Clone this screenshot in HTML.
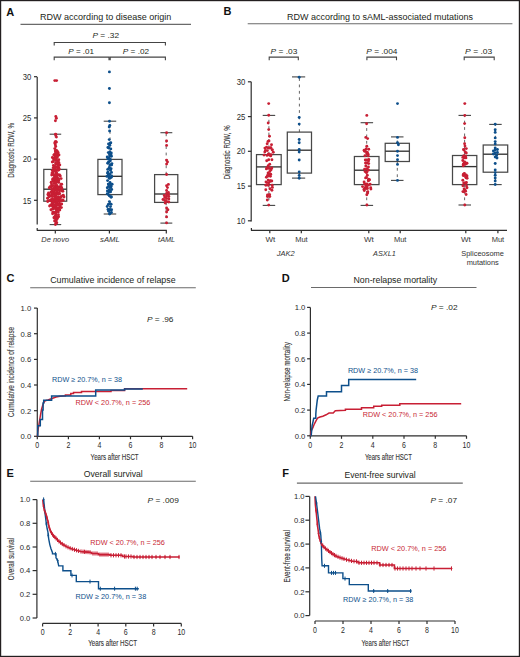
<!DOCTYPE html>
<html><head><meta charset="utf-8"><style>
html,body{margin:0;padding:0;background:#fff;}
svg{display:block;}
text{font-family:"Liberation Sans",sans-serif;}
.tk{}
.yl{stroke:#333;stroke-width:0.12px;}
</style></head><body>
<svg width="520" height="657" viewBox="0 0 520 657">
<rect width="520" height="657" fill="#fff"/>
<rect x="0.6" y="0.6" width="518.8" height="655.8" fill="none" stroke="#231f20" stroke-width="1.2"/>
<text x="6.3" y="15.6" font-size="11" font-weight="bold" fill="#111">A</text>
<text x="223.5" y="15.4" font-size="11" font-weight="bold" fill="#111">B</text>
<text x="6.5" y="281.9" font-size="11" font-weight="bold" fill="#111">C</text>
<text x="281.7" y="281.9" font-size="11" font-weight="bold" fill="#111">D</text>
<text x="6.5" y="476.9" font-size="11" font-weight="bold" fill="#111">E</text>
<text x="282.3" y="476.9" font-size="11" font-weight="bold" fill="#111">F</text>
<text x="40.0" y="20.0" font-size="9.6" textLength="131.4" lengthAdjust="spacingAndGlyphs" fill="#231f20">RDW according to disease origin</text>
<line x1="20.5" y1="24.4" x2="191.0" y2="24.4" stroke="#6a6a6a" stroke-width="1.1"/>
<text x="287.0" y="19.8" font-size="9.6" textLength="185.9" lengthAdjust="spacingAndGlyphs" fill="#231f20">RDW according to sAML-associated mutations</text>
<line x1="247.7" y1="23.7" x2="512.4" y2="23.7" stroke="#6a6a6a" stroke-width="1.1"/>
<text x="50.2" y="283.3" font-size="9.6" textLength="125.4" lengthAdjust="spacingAndGlyphs" fill="#231f20">Cumulative incidence of relapse</text>
<line x1="30.2" y1="287.7" x2="195.8" y2="287.7" stroke="#6a6a6a" stroke-width="1.1"/>
<text x="353.5" y="283.4" font-size="9.6" textLength="83.6" lengthAdjust="spacingAndGlyphs" fill="#231f20">Non-relapse mortality</text>
<line x1="311.0" y1="287.5" x2="476.5" y2="287.5" stroke="#6a6a6a" stroke-width="1.1"/>
<text x="83.7" y="477.0" font-size="9.6" textLength="59.0" lengthAdjust="spacingAndGlyphs" fill="#231f20">Overall survival</text>
<line x1="30.2" y1="481.3" x2="195.8" y2="481.3" stroke="#6a6a6a" stroke-width="1.1"/>
<text x="344.4" y="478.1" font-size="9.6" textLength="71.2" lengthAdjust="spacingAndGlyphs" fill="#231f20">Event-free survival</text>
<line x1="296.9" y1="483.1" x2="462.8" y2="483.1" stroke="#6a6a6a" stroke-width="1.1"/>
<line x1="37.2" y1="76.9" x2="37.2" y2="224.6" stroke="#2e2e2e" stroke-width="1.2"/>
<line x1="34.0" y1="200.3" x2="37.2" y2="200.3" stroke="#2e2e2e" stroke-width="1.2"/>
<text x="31.4" y="203.5" font-size="8.5" textLength="8.6" lengthAdjust="spacingAndGlyphs" text-anchor="end" fill="#2a2a2a" class="tk">15</text>
<line x1="34.0" y1="159.1" x2="37.2" y2="159.1" stroke="#2e2e2e" stroke-width="1.2"/>
<text x="31.4" y="162.3" font-size="8.5" textLength="8.6" lengthAdjust="spacingAndGlyphs" text-anchor="end" fill="#2a2a2a" class="tk">20</text>
<line x1="34.0" y1="117.9" x2="37.2" y2="117.9" stroke="#2e2e2e" stroke-width="1.2"/>
<text x="31.4" y="121.1" font-size="8.5" textLength="8.6" lengthAdjust="spacingAndGlyphs" text-anchor="end" fill="#2a2a2a" class="tk">25</text>
<line x1="34.0" y1="76.7" x2="37.2" y2="76.7" stroke="#2e2e2e" stroke-width="1.2"/>
<text x="31.4" y="79.9" font-size="8.5" textLength="8.6" lengthAdjust="spacingAndGlyphs" text-anchor="end" fill="#2a2a2a" class="tk">30</text>
<line x1="36.8" y1="230.3" x2="166.8" y2="230.3" stroke="#2e2e2e" stroke-width="1.2"/>
<line x1="37.2" y1="228.0" x2="37.2" y2="230.3" stroke="#2e2e2e" stroke-width="1.2"/>
<line x1="55.3" y1="230.3" x2="55.3" y2="233.6" stroke="#2e2e2e" stroke-width="1.2"/>
<line x1="109.4" y1="230.3" x2="109.4" y2="233.6" stroke="#2e2e2e" stroke-width="1.2"/>
<line x1="166.3" y1="230.3" x2="166.3" y2="233.6" stroke="#2e2e2e" stroke-width="1.2"/>
<text x="41.3" y="242.0" font-size="7.9" textLength="27.8" lengthAdjust="spacingAndGlyphs" font-style="italic" fill="#333">De novo</text>
<text x="100.1" y="242.0" font-size="7.9" textLength="19.6" lengthAdjust="spacingAndGlyphs" font-style="italic" fill="#333">sAML</text>
<text x="158.1" y="241.8" font-size="7.9" textLength="17.1" lengthAdjust="spacingAndGlyphs" font-style="italic" fill="#333">tAML</text>
<text x="13.6" y="150.4" font-size="9.2" textLength="54.8" lengthAdjust="spacingAndGlyphs" text-anchor="middle" fill="#333" transform="rotate(-90 13.6 150.4)" class="yl">Diagnostic RDW, %</text>
<path d="M54.2,45.6 V42.5 H165.4 V45.6 M54.2,60.2 V57.1 H109.0 V60.2 M110.2,60.2 V57.1 H165.4 V60.2" fill="none" stroke="#444" stroke-width="1.1"/>
<text x="92.5" y="38.1" font-size="8.0" fill="#231f20" textLength="26.5" lengthAdjust="spacingAndGlyphs"><tspan font-style="italic">P</tspan> = .32</text>
<text x="68.3" y="54.4" font-size="8.0" fill="#231f20" textLength="25.8" lengthAdjust="spacingAndGlyphs"><tspan font-style="italic">P</tspan> = .01</text>
<text x="122.8" y="54.4" font-size="8.0" fill="#231f20" textLength="26.3" lengthAdjust="spacingAndGlyphs"><tspan font-style="italic">P</tspan> = .02</text>
<line x1="55.2" y1="169.4" x2="55.2" y2="134.2" stroke="#555" stroke-width="0.9" stroke-dasharray="2.8,3.6"/>
<line x1="55.2" y1="201.2" x2="55.2" y2="224.6" stroke="#555" stroke-width="0.9" stroke-dasharray="2.8,3.6"/>
<line x1="49.6" y1="134.2" x2="61.2" y2="134.2" stroke="#444" stroke-width="1.1"/>
<line x1="49.6" y1="224.6" x2="61.2" y2="224.6" stroke="#444" stroke-width="1.1"/>
<rect x="43.8" y="169.4" width="22.9" height="31.8" fill="none" stroke="#484848" stroke-width="1.25"/>
<line x1="43.8" y1="189.2" x2="66.7" y2="189.2" stroke="#333" stroke-width="1.35"/>
<line x1="110.0" y1="159.4" x2="110.0" y2="121.2" stroke="#555" stroke-width="0.9" stroke-dasharray="2.8,3.6"/>
<line x1="110.0" y1="194.6" x2="110.0" y2="214.0" stroke="#555" stroke-width="0.9" stroke-dasharray="2.8,3.6"/>
<line x1="103.7" y1="121.2" x2="116.2" y2="121.2" stroke="#444" stroke-width="1.1"/>
<line x1="103.7" y1="214.0" x2="116.2" y2="214.0" stroke="#444" stroke-width="1.1"/>
<rect x="97.9" y="159.4" width="24.1" height="35.2" fill="none" stroke="#484848" stroke-width="1.25"/>
<line x1="97.9" y1="176.3" x2="122.0" y2="176.3" stroke="#333" stroke-width="1.35"/>
<line x1="166.2" y1="174.6" x2="166.2" y2="132.7" stroke="#555" stroke-width="0.9" stroke-dasharray="2.8,3.6"/>
<line x1="166.2" y1="202.4" x2="166.2" y2="223.1" stroke="#555" stroke-width="0.9" stroke-dasharray="2.8,3.6"/>
<line x1="160.4" y1="132.7" x2="172.3" y2="132.7" stroke="#444" stroke-width="1.1"/>
<line x1="160.4" y1="223.1" x2="172.3" y2="223.1" stroke="#444" stroke-width="1.1"/>
<rect x="154.6" y="174.6" width="23.2" height="27.8" fill="none" stroke="#484848" stroke-width="1.25"/>
<line x1="154.6" y1="194.0" x2="177.8" y2="194.0" stroke="#333" stroke-width="1.35"/>
<g fill="#c81f34"><circle cx="55.6" cy="134.6" r="1.45"/><circle cx="56.4" cy="137.1" r="1.45"/><circle cx="55.9" cy="134.7" r="1.45"/><circle cx="55.3" cy="141.8" r="1.45"/><circle cx="56.2" cy="142.3" r="1.45"/><circle cx="55.7" cy="146.5" r="1.45"/><circle cx="54.7" cy="143.0" r="1.45"/><circle cx="56.0" cy="141.6" r="1.45"/><circle cx="55.3" cy="144.7" r="1.45"/><circle cx="57.4" cy="151.5" r="1.45"/><circle cx="55.7" cy="152.4" r="1.45"/><circle cx="54.8" cy="148.6" r="1.45"/><circle cx="56.6" cy="150.4" r="1.45"/><circle cx="55.3" cy="151.0" r="1.45"/><circle cx="58.2" cy="152.7" r="1.45"/><circle cx="56.2" cy="151.5" r="1.45"/><circle cx="54.4" cy="154.4" r="1.45"/><circle cx="57.3" cy="155.3" r="1.45"/><circle cx="55.4" cy="156.8" r="1.45"/><circle cx="52.4" cy="157.4" r="1.45"/><circle cx="57.1" cy="157.4" r="1.45"/><circle cx="55.0" cy="155.1" r="1.45"/><circle cx="57.7" cy="153.8" r="1.45"/><circle cx="55.8" cy="155.4" r="1.45"/><circle cx="53.8" cy="155.1" r="1.45"/><circle cx="57.4" cy="156.5" r="1.45"/><circle cx="55.4" cy="156.9" r="1.45"/><circle cx="59.0" cy="155.0" r="1.45"/><circle cx="56.0" cy="153.3" r="1.45"/><circle cx="53.7" cy="158.3" r="1.45"/><circle cx="58.8" cy="159.8" r="1.45"/><circle cx="55.6" cy="158.7" r="1.45"/><circle cx="53.2" cy="158.6" r="1.45"/><circle cx="56.7" cy="160.4" r="1.45"/><circle cx="54.4" cy="159.3" r="1.45"/><circle cx="58.9" cy="162.8" r="1.45"/><circle cx="56.4" cy="158.1" r="1.45"/><circle cx="53.3" cy="161.5" r="1.45"/><circle cx="58.2" cy="161.9" r="1.45"/><circle cx="55.7" cy="159.1" r="1.45"/><circle cx="52.3" cy="162.0" r="1.45"/><circle cx="56.3" cy="160.6" r="1.45"/><circle cx="54.5" cy="159.4" r="1.45"/><circle cx="58.3" cy="164.8" r="1.45"/><circle cx="56.0" cy="164.0" r="1.45"/><circle cx="53.4" cy="165.4" r="1.45"/><circle cx="57.2" cy="166.9" r="1.45"/><circle cx="55.3" cy="166.9" r="1.45"/><circle cx="59.8" cy="165.0" r="1.45"/><circle cx="56.0" cy="163.9" r="1.45"/><circle cx="54.3" cy="167.0" r="1.45"/><circle cx="58.1" cy="166.3" r="1.45"/><circle cx="55.7" cy="163.1" r="1.45"/><circle cx="53.2" cy="167.7" r="1.45"/><circle cx="56.7" cy="164.1" r="1.45"/><circle cx="54.6" cy="165.9" r="1.45"/><circle cx="58.7" cy="167.6" r="1.45"/><circle cx="56.2" cy="172.5" r="1.45"/><circle cx="52.9" cy="170.7" r="1.45"/><circle cx="57.8" cy="168.9" r="1.45"/><circle cx="55.3" cy="170.4" r="1.45"/><circle cx="52.3" cy="170.6" r="1.45"/><circle cx="56.3" cy="170.8" r="1.45"/><circle cx="54.4" cy="170.5" r="1.45"/><circle cx="58.4" cy="170.2" r="1.45"/><circle cx="55.8" cy="171.5" r="1.45"/><circle cx="53.1" cy="172.7" r="1.45"/><circle cx="57.5" cy="169.3" r="1.45"/><circle cx="54.9" cy="168.7" r="1.45"/><circle cx="59.3" cy="169.2" r="1.45"/><circle cx="56.5" cy="179.3" r="1.45"/><circle cx="53.5" cy="179.8" r="1.45"/><circle cx="58.6" cy="178.8" r="1.45"/><circle cx="55.3" cy="175.4" r="1.45"/><circle cx="52.0" cy="173.1" r="1.45"/><circle cx="56.9" cy="175.3" r="1.45"/><circle cx="54.5" cy="179.9" r="1.45"/><circle cx="59.6" cy="174.9" r="1.45"/><circle cx="56.1" cy="173.9" r="1.45"/><circle cx="53.3" cy="174.8" r="1.45"/><circle cx="57.4" cy="177.9" r="1.45"/><circle cx="55.4" cy="176.0" r="1.45"/><circle cx="61.1" cy="178.6" r="1.45"/><circle cx="56.4" cy="179.0" r="1.45"/><circle cx="52.7" cy="179.5" r="1.45"/><circle cx="58.2" cy="174.7" r="1.45"/><circle cx="55.5" cy="174.4" r="1.45"/><circle cx="51.7" cy="175.0" r="1.45"/><circle cx="56.6" cy="173.1" r="1.45"/><circle cx="54.4" cy="176.9" r="1.45"/><circle cx="60.3" cy="176.0" r="1.45"/><circle cx="56.5" cy="176.5" r="1.45"/><circle cx="52.9" cy="178.8" r="1.45"/><circle cx="57.6" cy="175.4" r="1.45"/><circle cx="54.8" cy="178.2" r="1.45"/><circle cx="50.2" cy="186.7" r="1.45"/><circle cx="56.9" cy="181.9" r="1.45"/><circle cx="54.1" cy="183.6" r="1.45"/><circle cx="60.9" cy="184.4" r="1.45"/><circle cx="55.7" cy="182.9" r="1.45"/><circle cx="51.5" cy="184.0" r="1.45"/><circle cx="57.8" cy="182.1" r="1.45"/><circle cx="54.3" cy="180.2" r="1.45"/><circle cx="61.7" cy="184.2" r="1.45"/><circle cx="56.2" cy="187.0" r="1.45"/><circle cx="53.1" cy="181.2" r="1.45"/><circle cx="59.6" cy="186.7" r="1.45"/><circle cx="55.4" cy="186.5" r="1.45"/><circle cx="51.0" cy="186.7" r="1.45"/><circle cx="57.7" cy="187.1" r="1.45"/><circle cx="53.8" cy="180.2" r="1.45"/><circle cx="61.0" cy="186.7" r="1.45"/><circle cx="55.6" cy="185.4" r="1.45"/><circle cx="51.9" cy="186.0" r="1.45"/><circle cx="57.9" cy="180.5" r="1.45"/><circle cx="54.6" cy="182.1" r="1.45"/><circle cx="49.3" cy="187.8" r="1.45"/><circle cx="56.9" cy="185.5" r="1.45"/><circle cx="53.0" cy="180.6" r="1.45"/><circle cx="58.8" cy="182.4" r="1.45"/><circle cx="55.8" cy="182.2" r="1.45"/><circle cx="51.2" cy="182.3" r="1.45"/><circle cx="57.8" cy="187.5" r="1.45"/><circle cx="53.8" cy="187.7" r="1.45"/><circle cx="61.5" cy="187.6" r="1.45"/><circle cx="56.2" cy="181.1" r="1.45"/><circle cx="53.0" cy="185.6" r="1.45"/><circle cx="58.7" cy="180.2" r="1.45"/><circle cx="55.1" cy="182.4" r="1.45"/><circle cx="49.4" cy="193.9" r="1.45"/><circle cx="57.1" cy="193.0" r="1.45"/><circle cx="53.0" cy="192.1" r="1.45"/><circle cx="61.2" cy="188.3" r="1.45"/><circle cx="55.7" cy="194.5" r="1.45"/><circle cx="52.0" cy="189.3" r="1.45"/><circle cx="59.7" cy="193.7" r="1.45"/><circle cx="53.7" cy="191.8" r="1.45"/><circle cx="62.9" cy="191.2" r="1.45"/><circle cx="56.4" cy="188.9" r="1.45"/><circle cx="52.1" cy="189.8" r="1.45"/><circle cx="59.4" cy="190.8" r="1.45"/><circle cx="55.1" cy="194.3" r="1.45"/><circle cx="48.4" cy="195.0" r="1.45"/><circle cx="57.1" cy="188.6" r="1.45"/><circle cx="54.4" cy="189.8" r="1.45"/><circle cx="61.6" cy="190.9" r="1.45"/><circle cx="55.9" cy="190.4" r="1.45"/><circle cx="52.0" cy="188.9" r="1.45"/><circle cx="58.6" cy="189.5" r="1.45"/><circle cx="54.0" cy="193.9" r="1.45"/><circle cx="48.5" cy="193.0" r="1.45"/><circle cx="57.6" cy="188.0" r="1.45"/><circle cx="52.2" cy="194.0" r="1.45"/><circle cx="60.7" cy="189.1" r="1.45"/><circle cx="55.9" cy="193.1" r="1.45"/><circle cx="51.0" cy="191.9" r="1.45"/><circle cx="58.2" cy="194.4" r="1.45"/><circle cx="54.5" cy="189.8" r="1.45"/><circle cx="61.9" cy="188.5" r="1.45"/><circle cx="55.9" cy="189.6" r="1.45"/><circle cx="51.8" cy="192.5" r="1.45"/><circle cx="59.0" cy="192.9" r="1.45"/><circle cx="54.9" cy="192.7" r="1.45"/><circle cx="47.9" cy="194.5" r="1.45"/><circle cx="57.1" cy="190.9" r="1.45"/><circle cx="52.4" cy="198.7" r="1.45"/><circle cx="61.3" cy="196.6" r="1.45"/><circle cx="56.5" cy="198.8" r="1.45"/><circle cx="50.3" cy="195.9" r="1.45"/><circle cx="59.2" cy="199.7" r="1.45"/><circle cx="53.6" cy="199.9" r="1.45"/><circle cx="64.0" cy="197.0" r="1.45"/><circle cx="56.7" cy="200.0" r="1.45"/><circle cx="50.9" cy="199.7" r="1.45"/><circle cx="60.5" cy="196.9" r="1.45"/><circle cx="55.4" cy="195.0" r="1.45"/><circle cx="50.2" cy="196.0" r="1.45"/><circle cx="58.3" cy="197.2" r="1.45"/><circle cx="53.3" cy="199.6" r="1.45"/><circle cx="63.3" cy="195.2" r="1.45"/><circle cx="55.8" cy="195.2" r="1.45"/><circle cx="52.0" cy="196.3" r="1.45"/><circle cx="60.4" cy="198.1" r="1.45"/><circle cx="55.3" cy="196.4" r="1.45"/><circle cx="47.5" cy="198.2" r="1.45"/><circle cx="58.3" cy="197.4" r="1.45"/><circle cx="52.7" cy="196.3" r="1.45"/><circle cx="62.1" cy="195.9" r="1.45"/><circle cx="55.7" cy="198.9" r="1.45"/><circle cx="49.0" cy="196.8" r="1.45"/><circle cx="58.1" cy="198.8" r="1.45"/><circle cx="54.9" cy="197.8" r="1.45"/><circle cx="62.6" cy="199.9" r="1.45"/><circle cx="56.6" cy="197.5" r="1.45"/><circle cx="52.2" cy="201.7" r="1.45"/><circle cx="59.4" cy="203.4" r="1.45"/><circle cx="55.2" cy="201.2" r="1.45"/><circle cx="48.2" cy="200.8" r="1.45"/><circle cx="57.5" cy="203.5" r="1.45"/><circle cx="53.0" cy="204.0" r="1.45"/><circle cx="63.2" cy="200.4" r="1.45"/><circle cx="55.8" cy="203.7" r="1.45"/><circle cx="50.8" cy="200.8" r="1.45"/><circle cx="59.4" cy="201.5" r="1.45"/><circle cx="54.8" cy="200.4" r="1.45"/><circle cx="47.7" cy="201.5" r="1.45"/><circle cx="56.6" cy="202.4" r="1.45"/><circle cx="51.7" cy="201.3" r="1.45"/><circle cx="61.3" cy="200.8" r="1.45"/><circle cx="55.7" cy="200.4" r="1.45"/><circle cx="49.9" cy="200.4" r="1.45"/><circle cx="59.5" cy="201.1" r="1.45"/><circle cx="53.7" cy="202.3" r="1.45"/><circle cx="61.7" cy="204.0" r="1.45"/><circle cx="57.1" cy="200.8" r="1.45"/><circle cx="52.4" cy="203.3" r="1.45"/><circle cx="60.3" cy="200.7" r="1.45"/><circle cx="55.4" cy="207.6" r="1.45"/><circle cx="49.6" cy="206.0" r="1.45"/><circle cx="57.1" cy="207.7" r="1.45"/><circle cx="53.3" cy="207.9" r="1.45"/><circle cx="59.2" cy="207.9" r="1.45"/><circle cx="55.7" cy="206.5" r="1.45"/><circle cx="51.7" cy="204.9" r="1.45"/><circle cx="58.5" cy="204.7" r="1.45"/><circle cx="54.2" cy="205.5" r="1.45"/><circle cx="61.4" cy="207.6" r="1.45"/><circle cx="56.2" cy="204.2" r="1.45"/><circle cx="52.5" cy="206.2" r="1.45"/><circle cx="59.9" cy="206.3" r="1.45"/><circle cx="55.6" cy="205.8" r="1.45"/><circle cx="50.7" cy="204.9" r="1.45"/><circle cx="57.3" cy="204.7" r="1.45"/><circle cx="53.8" cy="205.7" r="1.45"/><circle cx="61.0" cy="204.2" r="1.45"/><circle cx="55.8" cy="211.9" r="1.45"/><circle cx="53.4" cy="208.7" r="1.45"/><circle cx="58.3" cy="212.1" r="1.45"/><circle cx="55.6" cy="208.8" r="1.45"/><circle cx="50.9" cy="209.8" r="1.45"/><circle cx="56.4" cy="209.4" r="1.45"/><circle cx="54.0" cy="212.6" r="1.45"/><circle cx="58.8" cy="209.6" r="1.45"/><circle cx="55.9" cy="212.7" r="1.45"/><circle cx="52.8" cy="211.9" r="1.45"/><circle cx="57.6" cy="209.8" r="1.45"/><circle cx="55.3" cy="212.4" r="1.45"/><circle cx="59.8" cy="210.0" r="1.45"/><circle cx="56.5" cy="210.9" r="1.45"/><circle cx="52.5" cy="208.9" r="1.45"/><circle cx="59.3" cy="209.3" r="1.45"/><circle cx="55.3" cy="216.3" r="1.45"/><circle cx="52.6" cy="213.7" r="1.45"/><circle cx="56.3" cy="217.5" r="1.45"/><circle cx="54.5" cy="213.1" r="1.45"/><circle cx="58.4" cy="214.8" r="1.45"/><circle cx="55.9" cy="214.0" r="1.45"/><circle cx="53.9" cy="217.7" r="1.45"/><circle cx="56.8" cy="216.9" r="1.45"/><circle cx="55.2" cy="216.2" r="1.45"/><circle cx="58.6" cy="216.7" r="1.45"/><circle cx="56.1" cy="215.7" r="1.45"/><circle cx="54.6" cy="216.9" r="1.45"/><circle cx="57.4" cy="218.6" r="1.45"/><circle cx="55.7" cy="218.7" r="1.45"/><circle cx="54.6" cy="220.9" r="1.45"/><circle cx="56.4" cy="219.9" r="1.45"/><circle cx="54.9" cy="218.4" r="1.45"/><circle cx="56.8" cy="222.7" r="1.45"/><circle cx="55.9" cy="223.4" r="1.45"/><circle cx="54.8" cy="80.6" r="1.45"/><circle cx="56.6" cy="80.6" r="1.45"/><circle cx="55.8" cy="116.5" r="1.45"/><circle cx="56.4" cy="118.3" r="1.45"/><circle cx="55.4" cy="120.8" r="1.45"/><circle cx="55.6" cy="134.2" r="1.45"/><circle cx="55.4" cy="224.6" r="1.45"/><circle cx="55.8" cy="221.5" r="1.45"/></g>
<g fill="#0d4f8b"><circle cx="109.2" cy="139.6" r="1.45"/><circle cx="110.8" cy="142.8" r="1.45"/><circle cx="109.8" cy="145.3" r="1.45"/><circle cx="108.5" cy="147.8" r="1.45"/><circle cx="110.8" cy="148.9" r="1.45"/><circle cx="109.0" cy="148.1" r="1.45"/><circle cx="107.9" cy="147.4" r="1.45"/><circle cx="110.1" cy="143.2" r="1.45"/><circle cx="108.5" cy="144.0" r="1.45"/><circle cx="111.4" cy="156.3" r="1.45"/><circle cx="109.6" cy="155.9" r="1.45"/><circle cx="107.8" cy="158.9" r="1.45"/><circle cx="110.4" cy="159.4" r="1.45"/><circle cx="108.9" cy="158.1" r="1.45"/><circle cx="111.3" cy="152.9" r="1.45"/><circle cx="109.8" cy="152.0" r="1.45"/><circle cx="108.3" cy="152.6" r="1.45"/><circle cx="111.0" cy="155.0" r="1.45"/><circle cx="109.4" cy="154.1" r="1.45"/><circle cx="107.2" cy="157.0" r="1.45"/><circle cx="110.2" cy="160.9" r="1.45"/><circle cx="108.7" cy="162.0" r="1.45"/><circle cx="111.6" cy="164.9" r="1.45"/><circle cx="109.8" cy="164.9" r="1.45"/><circle cx="107.7" cy="169.4" r="1.45"/><circle cx="110.8" cy="165.0" r="1.45"/><circle cx="109.1" cy="167.9" r="1.45"/><circle cx="111.9" cy="163.6" r="1.45"/><circle cx="109.8" cy="160.9" r="1.45"/><circle cx="108.2" cy="162.6" r="1.45"/><circle cx="111.1" cy="168.8" r="1.45"/><circle cx="109.4" cy="167.5" r="1.45"/><circle cx="107.7" cy="163.3" r="1.45"/><circle cx="110.5" cy="177.4" r="1.45"/><circle cx="108.6" cy="175.8" r="1.45"/><circle cx="111.5" cy="172.4" r="1.45"/><circle cx="109.6" cy="178.4" r="1.45"/><circle cx="107.7" cy="173.3" r="1.45"/><circle cx="111.3" cy="177.3" r="1.45"/><circle cx="109.0" cy="177.9" r="1.45"/><circle cx="106.9" cy="176.4" r="1.45"/><circle cx="110.4" cy="170.3" r="1.45"/><circle cx="108.3" cy="175.0" r="1.45"/><circle cx="111.6" cy="176.0" r="1.45"/><circle cx="109.7" cy="174.3" r="1.45"/><circle cx="107.9" cy="172.3" r="1.45"/><circle cx="110.8" cy="187.0" r="1.45"/><circle cx="108.8" cy="184.5" r="1.45"/><circle cx="112.1" cy="184.2" r="1.45"/><circle cx="110.0" cy="182.5" r="1.45"/><circle cx="108.3" cy="184.1" r="1.45"/><circle cx="111.1" cy="186.5" r="1.45"/><circle cx="109.3" cy="189.7" r="1.45"/><circle cx="107.3" cy="187.8" r="1.45"/><circle cx="110.6" cy="185.7" r="1.45"/><circle cx="108.5" cy="186.4" r="1.45"/><circle cx="111.7" cy="189.5" r="1.45"/><circle cx="110.0" cy="187.6" r="1.45"/><circle cx="107.6" cy="180.6" r="1.45"/><circle cx="111.1" cy="184.2" r="1.45"/><circle cx="109.1" cy="191.9" r="1.45"/><circle cx="107.3" cy="193.7" r="1.45"/><circle cx="110.3" cy="191.5" r="1.45"/><circle cx="108.3" cy="194.4" r="1.45"/><circle cx="111.3" cy="196.7" r="1.45"/><circle cx="109.3" cy="195.7" r="1.45"/><circle cx="107.4" cy="190.9" r="1.45"/><circle cx="110.4" cy="191.9" r="1.45"/><circle cx="108.8" cy="191.3" r="1.45"/><circle cx="111.1" cy="197.3" r="1.45"/><circle cx="109.7" cy="203.7" r="1.45"/><circle cx="108.3" cy="204.5" r="1.45"/><circle cx="111.1" cy="204.2" r="1.45"/><circle cx="109.4" cy="201.6" r="1.45"/><circle cx="107.2" cy="206.5" r="1.45"/><circle cx="110.1" cy="209.7" r="1.45"/><circle cx="108.7" cy="209.8" r="1.45"/><circle cx="111.6" cy="209.7" r="1.45"/><circle cx="109.7" cy="210.0" r="1.45"/><circle cx="108.0" cy="209.5" r="1.45"/><circle cx="110.5" cy="206.6" r="1.45"/><circle cx="108.7" cy="211.2" r="1.45"/><circle cx="111.4" cy="212.5" r="1.45"/><circle cx="109.9" cy="213.5" r="1.45"/><circle cx="109.5" cy="121.2" r="1.45"/><circle cx="109.8" cy="125.4" r="1.45"/><circle cx="109.2" cy="127.0" r="1.45"/><circle cx="109.6" cy="131.0" r="1.45"/><circle cx="109.4" cy="71.9" r="1.45"/><circle cx="109.4" cy="88.5" r="1.45"/><circle cx="109.4" cy="102.7" r="1.45"/><circle cx="109.6" cy="214.0" r="1.45"/></g>
<g fill="#c81f34"><circle cx="166.6" cy="185.7" r="1.45"/><circle cx="166.6" cy="198.5" r="1.45"/><circle cx="166.6" cy="164.1" r="1.45"/><circle cx="166.6" cy="216.9" r="1.45"/><circle cx="166.6" cy="193.5" r="1.45"/><circle cx="166.6" cy="201.5" r="1.45"/><circle cx="168.8" cy="202.0" r="1.45"/><circle cx="166.6" cy="145.4" r="1.45"/><circle cx="166.6" cy="160.1" r="1.45"/><circle cx="166.6" cy="196.0" r="1.45"/><circle cx="166.6" cy="222.9" r="1.45"/><circle cx="166.6" cy="208.0" r="1.45"/><circle cx="168.8" cy="196.5" r="1.45"/><circle cx="164.3" cy="195.5" r="1.45"/><circle cx="167.9" cy="209.7" r="1.45"/><circle cx="168.8" cy="199.0" r="1.45"/><circle cx="167.5" cy="187.6" r="1.45"/><circle cx="164.8" cy="200.5" r="1.45"/><circle cx="168.4" cy="184.4" r="1.45"/><circle cx="166.6" cy="174.5" r="1.45"/><circle cx="166.6" cy="132.7" r="1.45"/><circle cx="166.6" cy="190.5" r="1.45"/><circle cx="163.0" cy="199.5" r="1.45"/><circle cx="166.6" cy="212.0" r="1.45"/><circle cx="166.6" cy="141.0" r="1.45"/><circle cx="165.2" cy="203.0" r="1.45"/><circle cx="164.8" cy="197.5" r="1.45"/><circle cx="168.4" cy="192.5" r="1.45"/><circle cx="167.5" cy="162.0" r="1.45"/><circle cx="168.4" cy="194.5" r="1.45"/></g>
<line x1="251.2" y1="81.8" x2="251.2" y2="221.6" stroke="#2e2e2e" stroke-width="1.2"/>
<line x1="247.9" y1="220.8" x2="251.2" y2="220.8" stroke="#2e2e2e" stroke-width="1.2"/>
<text x="245.4" y="223.9" font-size="8.4" textLength="8.6" lengthAdjust="spacingAndGlyphs" text-anchor="end" fill="#2a2a2a" class="tk">10</text>
<line x1="247.9" y1="186.1" x2="251.2" y2="186.1" stroke="#2e2e2e" stroke-width="1.2"/>
<text x="245.4" y="189.2" font-size="8.4" textLength="8.6" lengthAdjust="spacingAndGlyphs" text-anchor="end" fill="#2a2a2a" class="tk">15</text>
<line x1="247.9" y1="151.3" x2="251.2" y2="151.3" stroke="#2e2e2e" stroke-width="1.2"/>
<text x="245.4" y="154.4" font-size="8.4" textLength="8.6" lengthAdjust="spacingAndGlyphs" text-anchor="end" fill="#2a2a2a" class="tk">20</text>
<line x1="247.9" y1="116.6" x2="251.2" y2="116.6" stroke="#2e2e2e" stroke-width="1.2"/>
<text x="245.4" y="119.7" font-size="8.4" textLength="8.6" lengthAdjust="spacingAndGlyphs" text-anchor="end" fill="#2a2a2a" class="tk">25</text>
<line x1="247.9" y1="81.8" x2="251.2" y2="81.8" stroke="#2e2e2e" stroke-width="1.2"/>
<text x="245.4" y="84.9" font-size="8.4" textLength="8.6" lengthAdjust="spacingAndGlyphs" text-anchor="end" fill="#2a2a2a" class="tk">30</text>
<line x1="251.0" y1="230.4" x2="507.0" y2="230.4" stroke="#2e2e2e" stroke-width="1.2"/>
<line x1="251.4" y1="227.9" x2="251.4" y2="230.4" stroke="#2e2e2e" stroke-width="1.2"/>
<line x1="269.8" y1="230.4" x2="269.8" y2="233.2" stroke="#2e2e2e" stroke-width="1.2"/>
<line x1="301.3" y1="230.4" x2="301.3" y2="233.2" stroke="#2e2e2e" stroke-width="1.2"/>
<line x1="368.8" y1="230.4" x2="368.8" y2="233.2" stroke="#2e2e2e" stroke-width="1.2"/>
<line x1="400.2" y1="230.4" x2="400.2" y2="233.2" stroke="#2e2e2e" stroke-width="1.2"/>
<line x1="465.8" y1="230.4" x2="465.8" y2="233.2" stroke="#2e2e2e" stroke-width="1.2"/>
<line x1="497.9" y1="230.4" x2="497.9" y2="233.2" stroke="#2e2e2e" stroke-width="1.2"/>
<text x="270.3" y="241.8" font-size="7.9" textLength="9.8" lengthAdjust="spacingAndGlyphs" text-anchor="middle" fill="#333">Wt</text>
<text x="301.4" y="241.8" font-size="7.9" textLength="12.5" lengthAdjust="spacingAndGlyphs" text-anchor="middle" fill="#333">Mut</text>
<text x="368.8" y="241.8" font-size="7.9" textLength="9.8" lengthAdjust="spacingAndGlyphs" text-anchor="middle" fill="#333">Wt</text>
<text x="400.2" y="241.8" font-size="7.9" textLength="12.5" lengthAdjust="spacingAndGlyphs" text-anchor="middle" fill="#333">Mut</text>
<text x="465.8" y="241.8" font-size="7.9" textLength="9.8" lengthAdjust="spacingAndGlyphs" text-anchor="middle" fill="#333">Wt</text>
<text x="497.9" y="241.8" font-size="7.9" textLength="12.5" lengthAdjust="spacingAndGlyphs" text-anchor="middle" fill="#333">Mut</text>
<text x="285.8" y="255.8" font-size="7.9" textLength="17.9" lengthAdjust="spacingAndGlyphs" text-anchor="middle" font-style="italic" fill="#333">JAK2</text>
<text x="384.4" y="255.8" font-size="7.9" textLength="22.7" lengthAdjust="spacingAndGlyphs" text-anchor="middle" font-style="italic" fill="#333">ASXL1</text>
<text x="482.6" y="256.3" font-size="7.9" textLength="42.7" lengthAdjust="spacingAndGlyphs" text-anchor="middle" fill="#333">Spliceosome</text>
<text x="482.7" y="264.8" font-size="7.9" textLength="32.1" lengthAdjust="spacingAndGlyphs" text-anchor="middle" fill="#333">mutations</text>
<text x="229.8" y="152.2" font-size="9.2" textLength="54.0" lengthAdjust="spacingAndGlyphs" text-anchor="middle" fill="#333" transform="rotate(-90 229.8 152.2)" class="yl">Diagnostic RDW, %</text>
<path d="M269.2,60.2 V57.1 H298.3 V60.2 M366.9,60.2 V57.1 H396.5 V60.2 M464.2,60.2 V57.1 H494.2 V60.2" fill="none" stroke="#444" stroke-width="1.1"/>
<text x="270.6" y="53.9" font-size="8.0" fill="#231f20" textLength="26.7" lengthAdjust="spacingAndGlyphs"><tspan font-style="italic">P</tspan> = .03</text>
<text x="366.3" y="53.5" font-size="8.0" fill="#231f20" textLength="31.1" lengthAdjust="spacingAndGlyphs"><tspan font-style="italic">P</tspan> = .004</text>
<text x="465.1" y="53.9" font-size="8.0" fill="#231f20" textLength="27.2" lengthAdjust="spacingAndGlyphs"><tspan font-style="italic">P</tspan> = .03</text>
<line x1="268.9" y1="154.6" x2="268.9" y2="115.4" stroke="#555" stroke-width="0.9" stroke-dasharray="2.8,3.6"/>
<line x1="268.9" y1="184.6" x2="268.9" y2="205.4" stroke="#555" stroke-width="0.9" stroke-dasharray="2.8,3.6"/>
<line x1="262.7" y1="115.4" x2="275.2" y2="115.4" stroke="#444" stroke-width="1.1"/>
<line x1="262.7" y1="205.4" x2="275.2" y2="205.4" stroke="#444" stroke-width="1.1"/>
<rect x="256.5" y="154.6" width="24.7" height="30.0" fill="none" stroke="#484848" stroke-width="1.25"/>
<line x1="256.5" y1="166.9" x2="281.2" y2="166.9" stroke="#333" stroke-width="1.35"/>
<line x1="299.4" y1="132.1" x2="299.4" y2="76.9" stroke="#555" stroke-width="0.9" stroke-dasharray="2.8,3.6"/>
<line x1="299.4" y1="173.1" x2="299.4" y2="178.1" stroke="#555" stroke-width="0.9" stroke-dasharray="2.8,3.6"/>
<line x1="292.0" y1="76.9" x2="305.2" y2="76.9" stroke="#444" stroke-width="1.1"/>
<line x1="292.0" y1="178.1" x2="305.2" y2="178.1" stroke="#444" stroke-width="1.1"/>
<rect x="287.3" y="132.1" width="24.2" height="41.0" fill="none" stroke="#484848" stroke-width="1.25"/>
<line x1="287.3" y1="150.2" x2="311.5" y2="150.2" stroke="#333" stroke-width="1.35"/>
<line x1="366.7" y1="156.5" x2="366.7" y2="122.7" stroke="#555" stroke-width="0.9" stroke-dasharray="2.8,3.6"/>
<line x1="366.7" y1="184.6" x2="366.7" y2="205.4" stroke="#555" stroke-width="0.9" stroke-dasharray="2.8,3.6"/>
<line x1="360.6" y1="122.7" x2="373.1" y2="122.7" stroke="#444" stroke-width="1.1"/>
<line x1="360.6" y1="205.4" x2="373.1" y2="205.4" stroke="#444" stroke-width="1.1"/>
<rect x="354.4" y="156.5" width="24.6" height="28.1" fill="none" stroke="#484848" stroke-width="1.25"/>
<line x1="354.4" y1="170.2" x2="379.0" y2="170.2" stroke="#333" stroke-width="1.35"/>
<line x1="397.3" y1="143.3" x2="397.3" y2="136.9" stroke="#555" stroke-width="0.9" stroke-dasharray="2.8,3.6"/>
<line x1="397.3" y1="161.5" x2="397.3" y2="180.4" stroke="#555" stroke-width="0.9" stroke-dasharray="2.8,3.6"/>
<line x1="391.0" y1="136.9" x2="403.5" y2="136.9" stroke="#444" stroke-width="1.1"/>
<line x1="391.0" y1="180.4" x2="403.5" y2="180.4" stroke="#444" stroke-width="1.1"/>
<rect x="385.2" y="143.3" width="24.2" height="18.2" fill="none" stroke="#484848" stroke-width="1.25"/>
<line x1="385.2" y1="151.2" x2="409.4" y2="151.2" stroke="#333" stroke-width="1.35"/>
<line x1="464.6" y1="155.5" x2="464.6" y2="115.4" stroke="#555" stroke-width="0.9" stroke-dasharray="2.8,3.6"/>
<line x1="464.6" y1="184.6" x2="464.6" y2="205.0" stroke="#555" stroke-width="0.9" stroke-dasharray="2.8,3.6"/>
<line x1="458.5" y1="115.4" x2="471.0" y2="115.4" stroke="#444" stroke-width="1.1"/>
<line x1="458.5" y1="205.0" x2="471.0" y2="205.0" stroke="#444" stroke-width="1.1"/>
<rect x="452.5" y="155.5" width="24.3" height="29.1" fill="none" stroke="#484848" stroke-width="1.25"/>
<line x1="452.5" y1="166.6" x2="476.8" y2="166.6" stroke="#333" stroke-width="1.35"/>
<line x1="495.4" y1="145.0" x2="495.4" y2="124.4" stroke="#555" stroke-width="0.9" stroke-dasharray="2.8,3.6"/>
<line x1="495.4" y1="172.2" x2="495.4" y2="184.6" stroke="#555" stroke-width="0.9" stroke-dasharray="2.8,3.6"/>
<line x1="489.2" y1="124.4" x2="501.7" y2="124.4" stroke="#444" stroke-width="1.1"/>
<line x1="489.2" y1="184.6" x2="501.7" y2="184.6" stroke="#444" stroke-width="1.1"/>
<rect x="483.2" y="145.0" width="24.5" height="27.2" fill="none" stroke="#484848" stroke-width="1.25"/>
<line x1="483.2" y1="154.2" x2="507.7" y2="154.2" stroke="#333" stroke-width="1.35"/>
<g fill="#c81f34"><circle cx="268.0" cy="141.4" r="1.45"/><circle cx="271.5" cy="144.8" r="1.45"/><circle cx="269.0" cy="140.9" r="1.45"/><circle cx="267.2" cy="143.7" r="1.45"/><circle cx="270.9" cy="147.7" r="1.45"/><circle cx="268.3" cy="148.0" r="1.45"/><circle cx="264.9" cy="148.1" r="1.45"/><circle cx="269.7" cy="148.0" r="1.45"/><circle cx="266.5" cy="147.3" r="1.45"/><circle cx="272.2" cy="149.6" r="1.45"/><circle cx="268.4" cy="153.9" r="1.45"/><circle cx="264.8" cy="152.1" r="1.45"/><circle cx="271.1" cy="154.7" r="1.45"/><circle cx="267.3" cy="150.6" r="1.45"/><circle cx="273.3" cy="152.2" r="1.45"/><circle cx="269.6" cy="154.7" r="1.45"/><circle cx="265.4" cy="150.5" r="1.45"/><circle cx="272.2" cy="150.1" r="1.45"/><circle cx="268.7" cy="159.8" r="1.45"/><circle cx="264.0" cy="155.1" r="1.45"/><circle cx="270.7" cy="155.9" r="1.45"/><circle cx="267.0" cy="155.4" r="1.45"/><circle cx="271.9" cy="159.7" r="1.45"/><circle cx="269.2" cy="155.1" r="1.45"/><circle cx="266.7" cy="160.8" r="1.45"/><circle cx="270.1" cy="168.6" r="1.45"/><circle cx="268.2" cy="165.7" r="1.45"/><circle cx="271.8" cy="168.0" r="1.45"/><circle cx="269.7" cy="164.2" r="1.45"/><circle cx="267.0" cy="167.8" r="1.45"/><circle cx="271.1" cy="169.7" r="1.45"/><circle cx="268.5" cy="168.3" r="1.45"/><circle cx="266.4" cy="168.9" r="1.45"/><circle cx="269.8" cy="171.4" r="1.45"/><circle cx="268.1" cy="172.9" r="1.45"/><circle cx="270.7" cy="174.3" r="1.45"/><circle cx="269.3" cy="174.0" r="1.45"/><circle cx="267.5" cy="175.4" r="1.45"/><circle cx="270.4" cy="176.2" r="1.45"/><circle cx="268.5" cy="176.0" r="1.45"/><circle cx="266.4" cy="177.3" r="1.45"/><circle cx="270.3" cy="181.2" r="1.45"/><circle cx="267.0" cy="182.6" r="1.45"/><circle cx="271.8" cy="181.0" r="1.45"/><circle cx="268.8" cy="182.8" r="1.45"/><circle cx="266.0" cy="181.9" r="1.45"/><circle cx="270.4" cy="180.8" r="1.45"/><circle cx="268.2" cy="180.1" r="1.45"/><circle cx="272.4" cy="187.4" r="1.45"/><circle cx="269.9" cy="188.8" r="1.45"/><circle cx="265.9" cy="185.2" r="1.45"/><circle cx="272.1" cy="185.3" r="1.45"/><circle cx="268.2" cy="185.3" r="1.45"/><circle cx="265.8" cy="189.8" r="1.45"/><circle cx="269.7" cy="194.8" r="1.45"/><circle cx="267.5" cy="195.0" r="1.45"/><circle cx="271.9" cy="190.2" r="1.45"/><circle cx="268.8" cy="194.9" r="1.45"/><circle cx="267.4" cy="196.5" r="1.45"/><circle cx="269.8" cy="196.6" r="1.45"/><circle cx="268.1" cy="195.8" r="1.45"/><circle cx="267.3" cy="200.0" r="1.45"/><circle cx="268.7" cy="103.6" r="1.45"/><circle cx="268.7" cy="115.3" r="1.45"/><circle cx="268.2" cy="123.0" r="1.45"/><circle cx="268.7" cy="129.6" r="1.45"/><circle cx="269.5" cy="136.2" r="1.45"/><circle cx="268.7" cy="205.1" r="1.45"/></g>
<g fill="#0d4f8b"><circle cx="299.2" cy="77.3" r="1.45"/><circle cx="299.2" cy="172.0" r="1.45"/><circle cx="299.2" cy="152.1" r="1.45"/><circle cx="299.2" cy="124.1" r="1.45"/><circle cx="299.2" cy="160.0" r="1.45"/><circle cx="299.2" cy="178.2" r="1.45"/><circle cx="299.2" cy="142.8" r="1.45"/><circle cx="299.2" cy="149.5" r="1.45"/><circle cx="299.2" cy="117.5" r="1.45"/><circle cx="299.2" cy="175.5" r="1.45"/><circle cx="299.2" cy="139.5" r="1.45"/></g>
<g fill="#c81f34"><circle cx="366.1" cy="148.9" r="1.45"/><circle cx="368.7" cy="149.3" r="1.45"/><circle cx="366.8" cy="153.6" r="1.45"/><circle cx="364.6" cy="151.3" r="1.45"/><circle cx="368.1" cy="154.2" r="1.45"/><circle cx="366.0" cy="151.6" r="1.45"/><circle cx="364.1" cy="150.3" r="1.45"/><circle cx="367.4" cy="152.4" r="1.45"/><circle cx="365.3" cy="160.0" r="1.45"/><circle cx="368.8" cy="159.5" r="1.45"/><circle cx="366.9" cy="159.9" r="1.45"/><circle cx="365.0" cy="155.7" r="1.45"/><circle cx="368.2" cy="155.9" r="1.45"/><circle cx="365.9" cy="162.9" r="1.45"/><circle cx="368.7" cy="163.6" r="1.45"/><circle cx="367.0" cy="163.0" r="1.45"/><circle cx="365.6" cy="163.1" r="1.45"/><circle cx="368.5" cy="161.0" r="1.45"/><circle cx="366.7" cy="168.6" r="1.45"/><circle cx="364.6" cy="169.2" r="1.45"/><circle cx="367.9" cy="169.6" r="1.45"/><circle cx="365.8" cy="165.9" r="1.45"/><circle cx="368.4" cy="166.9" r="1.45"/><circle cx="366.7" cy="172.2" r="1.45"/><circle cx="365.1" cy="171.6" r="1.45"/><circle cx="368.3" cy="170.3" r="1.45"/><circle cx="366.3" cy="172.6" r="1.45"/><circle cx="369.5" cy="179.8" r="1.45"/><circle cx="367.3" cy="175.2" r="1.45"/><circle cx="365.6" cy="177.9" r="1.45"/><circle cx="368.5" cy="179.3" r="1.45"/><circle cx="366.5" cy="177.5" r="1.45"/><circle cx="364.1" cy="182.0" r="1.45"/><circle cx="368.3" cy="180.7" r="1.45"/><circle cx="365.3" cy="184.1" r="1.45"/><circle cx="370.1" cy="184.2" r="1.45"/><circle cx="367.0" cy="183.9" r="1.45"/><circle cx="364.6" cy="184.0" r="1.45"/><circle cx="368.9" cy="180.3" r="1.45"/><circle cx="366.2" cy="185.7" r="1.45"/><circle cx="362.5" cy="186.6" r="1.45"/><circle cx="368.5" cy="185.1" r="1.45"/><circle cx="364.9" cy="187.8" r="1.45"/><circle cx="370.7" cy="187.7" r="1.45"/><circle cx="366.9" cy="187.0" r="1.45"/><circle cx="364.3" cy="190.5" r="1.45"/><circle cx="367.8" cy="191.8" r="1.45"/><circle cx="366.0" cy="188.5" r="1.45"/><circle cx="370.9" cy="189.1" r="1.45"/><circle cx="367.4" cy="188.5" r="1.45"/><circle cx="364.0" cy="189.2" r="1.45"/><circle cx="367.7" cy="193.1" r="1.45"/><circle cx="366.8" cy="115.4" r="1.45"/><circle cx="366.6" cy="123.8" r="1.45"/><circle cx="365.8" cy="137.4" r="1.45"/><circle cx="367.6" cy="138.6" r="1.45"/><circle cx="366.8" cy="146.2" r="1.45"/><circle cx="366.8" cy="194.8" r="1.45"/><circle cx="366.9" cy="205.0" r="1.45"/></g>
<g fill="#0d4f8b"><circle cx="397.5" cy="164.4" r="1.45"/><circle cx="397.5" cy="159.8" r="1.45"/><circle cx="397.5" cy="155.6" r="1.45"/><circle cx="397.5" cy="137.4" r="1.45"/><circle cx="397.5" cy="151.2" r="1.45"/><circle cx="397.5" cy="180.4" r="1.45"/><circle cx="397.5" cy="142.8" r="1.45"/><circle cx="398.4" cy="144.7" r="1.45"/><circle cx="397.5" cy="103.6" r="1.45"/></g>
<g fill="#c81f34"><circle cx="464.0" cy="150.1" r="1.45"/><circle cx="466.3" cy="148.6" r="1.45"/><circle cx="465.2" cy="151.9" r="1.45"/><circle cx="463.5" cy="149.5" r="1.45"/><circle cx="465.9" cy="157.9" r="1.45"/><circle cx="464.3" cy="157.9" r="1.45"/><circle cx="462.8" cy="157.4" r="1.45"/><circle cx="465.6" cy="156.1" r="1.45"/><circle cx="463.8" cy="155.8" r="1.45"/><circle cx="466.3" cy="153.0" r="1.45"/><circle cx="465.0" cy="156.7" r="1.45"/><circle cx="463.3" cy="164.2" r="1.45"/><circle cx="465.8" cy="163.8" r="1.45"/><circle cx="464.1" cy="162.9" r="1.45"/><circle cx="467.0" cy="163.2" r="1.45"/><circle cx="465.1" cy="164.4" r="1.45"/><circle cx="463.3" cy="165.8" r="1.45"/><circle cx="466.4" cy="163.2" r="1.45"/><circle cx="464.7" cy="162.0" r="1.45"/><circle cx="462.8" cy="160.5" r="1.45"/><circle cx="466.0" cy="177.7" r="1.45"/><circle cx="463.7" cy="175.2" r="1.45"/><circle cx="467.0" cy="175.9" r="1.45"/><circle cx="464.8" cy="175.3" r="1.45"/><circle cx="463.3" cy="175.6" r="1.45"/><circle cx="466.1" cy="174.9" r="1.45"/><circle cx="464.4" cy="173.4" r="1.45"/><circle cx="467.1" cy="178.3" r="1.45"/><circle cx="465.7" cy="176.9" r="1.45"/><circle cx="463.4" cy="174.2" r="1.45"/><circle cx="466.4" cy="182.5" r="1.45"/><circle cx="464.9" cy="183.0" r="1.45"/><circle cx="462.8" cy="180.2" r="1.45"/><circle cx="465.7" cy="183.5" r="1.45"/><circle cx="463.7" cy="182.9" r="1.45"/><circle cx="467.0" cy="187.8" r="1.45"/><circle cx="465.0" cy="190.0" r="1.45"/><circle cx="462.9" cy="185.8" r="1.45"/><circle cx="466.5" cy="185.9" r="1.45"/><circle cx="464.1" cy="189.0" r="1.45"/><circle cx="462.9" cy="191.6" r="1.45"/><circle cx="465.6" cy="191.3" r="1.45"/><circle cx="463.9" cy="191.7" r="1.45"/><circle cx="466.1" cy="194.5" r="1.45"/><circle cx="464.8" cy="103.6" r="1.45"/><circle cx="464.8" cy="115.4" r="1.45"/><circle cx="464.6" cy="123.6" r="1.45"/><circle cx="464.8" cy="137.7" r="1.45"/><circle cx="464.6" cy="143.7" r="1.45"/><circle cx="465.0" cy="146.1" r="1.45"/><circle cx="464.8" cy="205.0" r="1.45"/></g>
<g fill="#0d4f8b"><circle cx="495.2" cy="137.9" r="1.45"/><circle cx="495.2" cy="175.3" r="1.45"/><circle cx="495.2" cy="163.5" r="1.45"/><circle cx="495.2" cy="153.0" r="1.45"/><circle cx="495.2" cy="132.4" r="1.45"/><circle cx="497.4" cy="152.5" r="1.45"/><circle cx="495.2" cy="178.0" r="1.45"/><circle cx="495.2" cy="148.0" r="1.45"/><circle cx="495.2" cy="169.9" r="1.45"/><circle cx="495.2" cy="124.2" r="1.45"/><circle cx="495.2" cy="184.5" r="1.45"/><circle cx="495.2" cy="157.0" r="1.45"/><circle cx="493.4" cy="154.0" r="1.45"/><circle cx="495.2" cy="129.7" r="1.45"/><circle cx="495.2" cy="172.6" r="1.45"/><circle cx="495.2" cy="150.0" r="1.45"/><circle cx="493.4" cy="151.0" r="1.45"/><circle cx="495.2" cy="143.9" r="1.45"/><circle cx="495.2" cy="181.0" r="1.45"/><circle cx="497.4" cy="149.5" r="1.45"/><circle cx="495.2" cy="141.6" r="1.45"/><circle cx="497.0" cy="158.0" r="1.45"/><circle cx="496.6" cy="155.5" r="1.45"/></g>
<line x1="37.3" y1="308.1" x2="37.3" y2="436.3" stroke="#2e2e2e" stroke-width="1.2"/>
<line x1="34.0" y1="436.3" x2="37.3" y2="436.3" stroke="#2e2e2e" stroke-width="1.2"/>
<text x="31.3" y="439.1" font-size="7.9" textLength="10.7" lengthAdjust="spacingAndGlyphs" text-anchor="end" fill="#2a2a2a" class="tk">0.0</text>
<line x1="34.0" y1="410.7" x2="37.3" y2="410.7" stroke="#2e2e2e" stroke-width="1.2"/>
<text x="31.3" y="413.5" font-size="7.9" textLength="10.7" lengthAdjust="spacingAndGlyphs" text-anchor="end" fill="#2a2a2a" class="tk">0.2</text>
<line x1="34.0" y1="385.0" x2="37.3" y2="385.0" stroke="#2e2e2e" stroke-width="1.2"/>
<text x="31.3" y="387.9" font-size="7.9" textLength="10.7" lengthAdjust="spacingAndGlyphs" text-anchor="end" fill="#2a2a2a" class="tk">0.4</text>
<line x1="34.0" y1="359.4" x2="37.3" y2="359.4" stroke="#2e2e2e" stroke-width="1.2"/>
<text x="31.3" y="362.2" font-size="7.9" textLength="10.7" lengthAdjust="spacingAndGlyphs" text-anchor="end" fill="#2a2a2a" class="tk">0.6</text>
<line x1="34.0" y1="333.7" x2="37.3" y2="333.7" stroke="#2e2e2e" stroke-width="1.2"/>
<text x="31.3" y="336.6" font-size="7.9" textLength="10.7" lengthAdjust="spacingAndGlyphs" text-anchor="end" fill="#2a2a2a" class="tk">0.8</text>
<line x1="34.0" y1="308.1" x2="37.3" y2="308.1" stroke="#2e2e2e" stroke-width="1.2"/>
<text x="31.3" y="310.9" font-size="7.9" textLength="10.7" lengthAdjust="spacingAndGlyphs" text-anchor="end" fill="#2a2a2a" class="tk">1.0</text>
<line x1="36.9" y1="436.3" x2="192.6" y2="436.3" stroke="#2e2e2e" stroke-width="1.2"/>
<line x1="37.3" y1="436.3" x2="37.3" y2="439.3" stroke="#2e2e2e" stroke-width="1.2"/>
<text x="37.3" y="448.2" font-size="8.2" textLength="3.9" lengthAdjust="spacingAndGlyphs" text-anchor="middle" fill="#2a2a2a" class="tk">0</text>
<line x1="68.4" y1="436.3" x2="68.4" y2="439.3" stroke="#2e2e2e" stroke-width="1.2"/>
<text x="68.4" y="448.2" font-size="8.2" textLength="3.9" lengthAdjust="spacingAndGlyphs" text-anchor="middle" fill="#2a2a2a" class="tk">2</text>
<line x1="99.4" y1="436.3" x2="99.4" y2="439.3" stroke="#2e2e2e" stroke-width="1.2"/>
<text x="99.4" y="448.2" font-size="8.2" textLength="3.9" lengthAdjust="spacingAndGlyphs" text-anchor="middle" fill="#2a2a2a" class="tk">4</text>
<line x1="130.5" y1="436.3" x2="130.5" y2="439.3" stroke="#2e2e2e" stroke-width="1.2"/>
<text x="130.5" y="448.2" font-size="8.2" textLength="3.9" lengthAdjust="spacingAndGlyphs" text-anchor="middle" fill="#2a2a2a" class="tk">6</text>
<line x1="161.5" y1="436.3" x2="161.5" y2="439.3" stroke="#2e2e2e" stroke-width="1.2"/>
<text x="161.5" y="448.2" font-size="8.2" textLength="3.9" lengthAdjust="spacingAndGlyphs" text-anchor="middle" fill="#2a2a2a" class="tk">8</text>
<line x1="192.6" y1="436.3" x2="192.6" y2="439.3" stroke="#2e2e2e" stroke-width="1.2"/>
<text x="192.6" y="448.2" font-size="8.2" textLength="7.8" lengthAdjust="spacingAndGlyphs" text-anchor="middle" fill="#2a2a2a" class="tk">10</text>
<text x="90.6" y="459.8" font-size="9.5" textLength="48.0" lengthAdjust="spacingAndGlyphs" fill="#333" class="yl">Years after HSCT</text>
<text x="14.0" y="371.9" font-size="9.2" textLength="90.0" lengthAdjust="spacingAndGlyphs" text-anchor="middle" fill="#333" transform="rotate(-90 14.0 371.9)" class="yl">Cumulative incidence of relapse</text>
<text x="146.9" y="321.7" font-size="8.0" fill="#231f20" textLength="26.6" lengthAdjust="spacingAndGlyphs"><tspan font-style="italic">P</tspan> = .96</text>
<text x="52.1" y="382.2" font-size="7.2" textLength="70.0" lengthAdjust="spacingAndGlyphs" fill="#0d4f8b">RDW ≥ 20.7%, n = 38</text>
<text x="75.4" y="405.3" font-size="7.2" textLength="75.0" lengthAdjust="spacingAndGlyphs" fill="#c81f34">RDW &lt; 20.7%, n = 256</text>
<polyline points="37.4,436.3 37.8,432.0 38.5,427.0 39.5,421.0 40.5,415.0 41.5,409.5 42.5,406.0 43.5,403.0 44.5,401.5 46.0,400.5 48.0,400.0 50.0,399.2 52.0,398.5 56.0,397.0 60.0,396.3 65.4,395.8 65.4,394.9 70.8,394.9 70.8,393.6 73.5,393.6 73.5,392.6 81.5,392.6 81.5,391.5 111.0,391.5 111.0,390.5 124.6,390.5 124.6,388.8 187.2,388.8" fill="none" stroke="#c81f34" stroke-width="1.5" stroke-linejoin="miter"/>
<polyline points="37.8,436.3 37.8,425.8 40.3,425.8 40.3,419.4 42.5,419.4 42.5,410.0 43.1,410.0 43.1,403.0 43.7,403.0 43.7,400.3 51.6,400.3 51.6,396.0 95.7,396.0 95.7,389.9 124.6,389.9 124.6,389.1 142.8,389.1" fill="none" stroke="#0d4f8b" stroke-width="1.5" stroke-linejoin="miter"/>
<line x1="310.4" y1="307.4" x2="310.4" y2="435.8" stroke="#2e2e2e" stroke-width="1.2"/>
<line x1="307.1" y1="435.8" x2="310.4" y2="435.8" stroke="#2e2e2e" stroke-width="1.2"/>
<text x="305.4" y="438.6" font-size="7.9" textLength="10.7" lengthAdjust="spacingAndGlyphs" text-anchor="end" fill="#2a2a2a" class="tk">0.0</text>
<line x1="307.1" y1="410.1" x2="310.4" y2="410.1" stroke="#2e2e2e" stroke-width="1.2"/>
<text x="305.4" y="413.0" font-size="7.9" textLength="10.7" lengthAdjust="spacingAndGlyphs" text-anchor="end" fill="#2a2a2a" class="tk">0.2</text>
<line x1="307.1" y1="384.4" x2="310.4" y2="384.4" stroke="#2e2e2e" stroke-width="1.2"/>
<text x="305.4" y="387.3" font-size="7.9" textLength="10.7" lengthAdjust="spacingAndGlyphs" text-anchor="end" fill="#2a2a2a" class="tk">0.4</text>
<line x1="307.1" y1="358.8" x2="310.4" y2="358.8" stroke="#2e2e2e" stroke-width="1.2"/>
<text x="305.4" y="361.6" font-size="7.9" textLength="10.7" lengthAdjust="spacingAndGlyphs" text-anchor="end" fill="#2a2a2a" class="tk">0.6</text>
<line x1="307.1" y1="333.1" x2="310.4" y2="333.1" stroke="#2e2e2e" stroke-width="1.2"/>
<text x="305.4" y="335.9" font-size="7.9" textLength="10.7" lengthAdjust="spacingAndGlyphs" text-anchor="end" fill="#2a2a2a" class="tk">0.8</text>
<line x1="307.1" y1="307.4" x2="310.4" y2="307.4" stroke="#2e2e2e" stroke-width="1.2"/>
<text x="305.4" y="310.2" font-size="7.9" textLength="10.7" lengthAdjust="spacingAndGlyphs" text-anchor="end" fill="#2a2a2a" class="tk">1.0</text>
<line x1="309.9" y1="435.8" x2="466.5" y2="435.8" stroke="#2e2e2e" stroke-width="1.2"/>
<line x1="310.3" y1="435.8" x2="310.3" y2="438.8" stroke="#2e2e2e" stroke-width="1.2"/>
<text x="310.3" y="447.5" font-size="8.2" textLength="3.9" lengthAdjust="spacingAndGlyphs" text-anchor="middle" fill="#2a2a2a" class="tk">0</text>
<line x1="341.5" y1="435.8" x2="341.5" y2="438.8" stroke="#2e2e2e" stroke-width="1.2"/>
<text x="341.5" y="447.5" font-size="8.2" textLength="3.9" lengthAdjust="spacingAndGlyphs" text-anchor="middle" fill="#2a2a2a" class="tk">2</text>
<line x1="372.8" y1="435.8" x2="372.8" y2="438.8" stroke="#2e2e2e" stroke-width="1.2"/>
<text x="372.8" y="447.5" font-size="8.2" textLength="3.9" lengthAdjust="spacingAndGlyphs" text-anchor="middle" fill="#2a2a2a" class="tk">4</text>
<line x1="404.0" y1="435.8" x2="404.0" y2="438.8" stroke="#2e2e2e" stroke-width="1.2"/>
<text x="404.0" y="447.5" font-size="8.2" textLength="3.9" lengthAdjust="spacingAndGlyphs" text-anchor="middle" fill="#2a2a2a" class="tk">6</text>
<line x1="435.3" y1="435.8" x2="435.3" y2="438.8" stroke="#2e2e2e" stroke-width="1.2"/>
<text x="435.3" y="447.5" font-size="8.2" textLength="3.9" lengthAdjust="spacingAndGlyphs" text-anchor="middle" fill="#2a2a2a" class="tk">8</text>
<line x1="466.5" y1="435.8" x2="466.5" y2="438.8" stroke="#2e2e2e" stroke-width="1.2"/>
<text x="466.5" y="447.5" font-size="8.2" textLength="7.8" lengthAdjust="spacingAndGlyphs" text-anchor="middle" fill="#2a2a2a" class="tk">10</text>
<text x="364.9" y="460.1" font-size="9.5" textLength="47.0" lengthAdjust="spacingAndGlyphs" fill="#333" class="yl">Years after HSCT</text>
<text x="289.6" y="371.9" font-size="9.2" textLength="59.4" lengthAdjust="spacingAndGlyphs" text-anchor="middle" fill="#333" transform="rotate(-90 289.6 371.9)" class="yl">Non-relapse mortality</text>
<text x="430.9" y="309.9" font-size="8.0" fill="#231f20" textLength="26.7" lengthAdjust="spacingAndGlyphs"><tspan font-style="italic">P</tspan> = .02</text>
<text x="347.9" y="372.9" font-size="7.2" textLength="70.2" lengthAdjust="spacingAndGlyphs" fill="#0d4f8b">RDW ≥ 20.7%, n = 38</text>
<text x="362.7" y="417.3" font-size="7.2" textLength="74.8" lengthAdjust="spacingAndGlyphs" fill="#c81f34">RDW &lt; 20.7%, n = 256</text>
<polyline points="310.5,435.8 311.0,431.5 312.0,429.3 313.0,427.4 314.0,424.7 315.2,422.3 316.5,419.8 317.9,417.9 320.0,417.0 322.8,416.2 326.1,414.8 329.0,413.1 333.2,413.1 335.3,410.8 345.4,410.3 345.4,409.2 361.5,409.2 361.5,407.7 373.7,407.7 373.7,406.3 381.7,406.3 381.7,405.2 399.8,405.2 399.8,403.8 461.2,403.8" fill="none" stroke="#c81f34" stroke-width="1.5" stroke-linejoin="miter"/>
<polyline points="310.5,435.6 311.2,435.6 312.1,425.6 313.1,421.3 313.7,418.3 315.8,418.3 315.8,414.3 316.1,410.0 316.7,404.9 317.3,400.0 318.2,395.9 326.5,395.9 326.5,391.7 341.5,391.7 341.5,385.5 348.7,385.5 348.7,379.4 416.2,379.4" fill="none" stroke="#0d4f8b" stroke-width="1.5" stroke-linejoin="miter"/>
<line x1="36.9" y1="499.6" x2="36.9" y2="618.0" stroke="#2e2e2e" stroke-width="1.2"/>
<line x1="32.6" y1="618.0" x2="36.9" y2="618.0" stroke="#2e2e2e" stroke-width="1.2"/>
<text x="30.3" y="620.8" font-size="7.8" textLength="10.6" lengthAdjust="spacingAndGlyphs" text-anchor="end" fill="#2a2a2a" class="tk">0.0</text>
<line x1="32.6" y1="594.3" x2="36.9" y2="594.3" stroke="#2e2e2e" stroke-width="1.2"/>
<text x="30.3" y="597.1" font-size="7.8" textLength="10.6" lengthAdjust="spacingAndGlyphs" text-anchor="end" fill="#2a2a2a" class="tk">0.2</text>
<line x1="32.6" y1="570.6" x2="36.9" y2="570.6" stroke="#2e2e2e" stroke-width="1.2"/>
<text x="30.3" y="573.4" font-size="7.8" textLength="10.6" lengthAdjust="spacingAndGlyphs" text-anchor="end" fill="#2a2a2a" class="tk">0.4</text>
<line x1="32.6" y1="547.0" x2="36.9" y2="547.0" stroke="#2e2e2e" stroke-width="1.2"/>
<text x="30.3" y="549.8" font-size="7.8" textLength="10.6" lengthAdjust="spacingAndGlyphs" text-anchor="end" fill="#2a2a2a" class="tk">0.6</text>
<line x1="32.6" y1="523.3" x2="36.9" y2="523.3" stroke="#2e2e2e" stroke-width="1.2"/>
<text x="30.3" y="526.1" font-size="7.8" textLength="10.6" lengthAdjust="spacingAndGlyphs" text-anchor="end" fill="#2a2a2a" class="tk">0.8</text>
<line x1="32.6" y1="499.6" x2="36.9" y2="499.6" stroke="#2e2e2e" stroke-width="1.2"/>
<text x="30.3" y="502.4" font-size="7.8" textLength="10.6" lengthAdjust="spacingAndGlyphs" text-anchor="end" fill="#2a2a2a" class="tk">1.0</text>
<line x1="42.6" y1="623.4" x2="181.3" y2="623.4" stroke="#2e2e2e" stroke-width="1.2"/>
<line x1="42.6" y1="623.4" x2="42.6" y2="626.4" stroke="#2e2e2e" stroke-width="1.2"/>
<text x="42.6" y="634.9" font-size="8.2" textLength="3.9" lengthAdjust="spacingAndGlyphs" text-anchor="middle" fill="#2a2a2a" class="tk">0</text>
<line x1="70.3" y1="623.4" x2="70.3" y2="626.4" stroke="#2e2e2e" stroke-width="1.2"/>
<text x="70.3" y="634.9" font-size="8.2" textLength="3.9" lengthAdjust="spacingAndGlyphs" text-anchor="middle" fill="#2a2a2a" class="tk">2</text>
<line x1="98.1" y1="623.4" x2="98.1" y2="626.4" stroke="#2e2e2e" stroke-width="1.2"/>
<text x="98.1" y="634.9" font-size="8.2" textLength="3.9" lengthAdjust="spacingAndGlyphs" text-anchor="middle" fill="#2a2a2a" class="tk">4</text>
<line x1="125.8" y1="623.4" x2="125.8" y2="626.4" stroke="#2e2e2e" stroke-width="1.2"/>
<text x="125.8" y="634.9" font-size="8.2" textLength="3.9" lengthAdjust="spacingAndGlyphs" text-anchor="middle" fill="#2a2a2a" class="tk">6</text>
<line x1="153.6" y1="623.4" x2="153.6" y2="626.4" stroke="#2e2e2e" stroke-width="1.2"/>
<text x="153.6" y="634.9" font-size="8.2" textLength="3.9" lengthAdjust="spacingAndGlyphs" text-anchor="middle" fill="#2a2a2a" class="tk">8</text>
<line x1="181.3" y1="623.4" x2="181.3" y2="626.4" stroke="#2e2e2e" stroke-width="1.2"/>
<text x="181.3" y="634.9" font-size="8.2" textLength="7.8" lengthAdjust="spacingAndGlyphs" text-anchor="middle" fill="#2a2a2a" class="tk">10</text>
<text x="88.2" y="646.2" font-size="9.5" textLength="48.8" lengthAdjust="spacingAndGlyphs" fill="#333" class="yl">Years after HSCT</text>
<text x="14.0" y="559.0" font-size="9.2" textLength="42.3" lengthAdjust="spacingAndGlyphs" text-anchor="middle" fill="#333" transform="rotate(-90 14.0 559.0)" class="yl">Overall survival</text>
<text x="147.5" y="503.1" font-size="8.0" fill="#231f20" textLength="31.3" lengthAdjust="spacingAndGlyphs"><tspan font-style="italic">P</tspan> = .009</text>
<text x="90.2" y="545.4" font-size="7.2" textLength="74.7" lengthAdjust="spacingAndGlyphs" fill="#c81f34">RDW &lt; 20.7%, n = 256</text>
<text x="75.6" y="599.2" font-size="7.2" textLength="70.6" lengthAdjust="spacingAndGlyphs" fill="#0d4f8b">RDW ≥ 20.7%, n = 38</text>
<polyline points="42.8,499.6 43.3,504.8 44.4,510.0 46.2,515.2 47.9,521.0 49.0,526.7 50.8,531.9 53.1,535.4 56.0,538.3 58.8,541.2 62.3,544.0 66.9,546.9 71.5,548.7 76.2,550.2 80.8,551.5 87.7,552.1 91.5,552.4 91.5,553.5 98.5,553.5 98.5,554.6 110.0,554.6 110.0,555.3 122.7,555.3 122.7,556.5 133.0,556.5 133.0,557.0 179.2,557.0" fill="none" stroke="#c81f34" stroke-width="1.6" stroke-linejoin="miter"/>
<polyline points="43.6,499.4 44.4,506.5 45.2,514.6 46.2,522.7 47.1,528.5 47.9,531.9 48.7,538.8 49.8,544.6 51.0,548.7 52.5,552.7 52.5,553.9 56.0,553.9 56.0,557.9 57.6,560.5 58.7,565.9 62.9,565.9 62.9,570.8 70.9,570.8 70.9,575.4 76.3,575.4 76.3,581.6 98.5,581.6 98.5,588.7 138.8,588.7" fill="none" stroke="#0d4f8b" stroke-width="1.4" stroke-linejoin="miter"/>
<line x1="309.7" y1="496.4" x2="309.7" y2="615.6" stroke="#2e2e2e" stroke-width="1.2"/>
<line x1="305.4" y1="615.6" x2="309.7" y2="615.6" stroke="#2e2e2e" stroke-width="1.2"/>
<text x="304.6" y="618.4" font-size="7.8" textLength="10.6" lengthAdjust="spacingAndGlyphs" text-anchor="end" fill="#2a2a2a" class="tk">0.0</text>
<line x1="305.4" y1="591.8" x2="309.7" y2="591.8" stroke="#2e2e2e" stroke-width="1.2"/>
<text x="304.6" y="594.6" font-size="7.8" textLength="10.6" lengthAdjust="spacingAndGlyphs" text-anchor="end" fill="#2a2a2a" class="tk">0.2</text>
<line x1="305.4" y1="567.9" x2="309.7" y2="567.9" stroke="#2e2e2e" stroke-width="1.2"/>
<text x="304.6" y="570.7" font-size="7.8" textLength="10.6" lengthAdjust="spacingAndGlyphs" text-anchor="end" fill="#2a2a2a" class="tk">0.4</text>
<line x1="305.4" y1="544.1" x2="309.7" y2="544.1" stroke="#2e2e2e" stroke-width="1.2"/>
<text x="304.6" y="546.9" font-size="7.8" textLength="10.6" lengthAdjust="spacingAndGlyphs" text-anchor="end" fill="#2a2a2a" class="tk">0.6</text>
<line x1="305.4" y1="520.2" x2="309.7" y2="520.2" stroke="#2e2e2e" stroke-width="1.2"/>
<text x="304.6" y="523.0" font-size="7.8" textLength="10.6" lengthAdjust="spacingAndGlyphs" text-anchor="end" fill="#2a2a2a" class="tk">0.8</text>
<line x1="305.4" y1="496.4" x2="309.7" y2="496.4" stroke="#2e2e2e" stroke-width="1.2"/>
<text x="304.6" y="499.2" font-size="7.8" textLength="10.6" lengthAdjust="spacingAndGlyphs" text-anchor="end" fill="#2a2a2a" class="tk">1.0</text>
<line x1="315.0" y1="621.0" x2="455.0" y2="621.0" stroke="#2e2e2e" stroke-width="1.2"/>
<line x1="315.0" y1="621.0" x2="315.0" y2="624.0" stroke="#2e2e2e" stroke-width="1.2"/>
<text x="315.0" y="633.1" font-size="8.2" textLength="3.9" lengthAdjust="spacingAndGlyphs" text-anchor="middle" fill="#2a2a2a" class="tk">0</text>
<line x1="343.0" y1="621.0" x2="343.0" y2="624.0" stroke="#2e2e2e" stroke-width="1.2"/>
<text x="343.0" y="633.1" font-size="8.2" textLength="3.9" lengthAdjust="spacingAndGlyphs" text-anchor="middle" fill="#2a2a2a" class="tk">2</text>
<line x1="371.0" y1="621.0" x2="371.0" y2="624.0" stroke="#2e2e2e" stroke-width="1.2"/>
<text x="371.0" y="633.1" font-size="8.2" textLength="3.9" lengthAdjust="spacingAndGlyphs" text-anchor="middle" fill="#2a2a2a" class="tk">4</text>
<line x1="399.0" y1="621.0" x2="399.0" y2="624.0" stroke="#2e2e2e" stroke-width="1.2"/>
<text x="399.0" y="633.1" font-size="8.2" textLength="3.9" lengthAdjust="spacingAndGlyphs" text-anchor="middle" fill="#2a2a2a" class="tk">6</text>
<line x1="427.0" y1="621.0" x2="427.0" y2="624.0" stroke="#2e2e2e" stroke-width="1.2"/>
<text x="427.0" y="633.1" font-size="8.2" textLength="3.9" lengthAdjust="spacingAndGlyphs" text-anchor="middle" fill="#2a2a2a" class="tk">8</text>
<line x1="455.0" y1="621.0" x2="455.0" y2="624.0" stroke="#2e2e2e" stroke-width="1.2"/>
<text x="455.0" y="633.1" font-size="8.2" textLength="7.8" lengthAdjust="spacingAndGlyphs" text-anchor="middle" fill="#2a2a2a" class="tk">10</text>
<text x="361.6" y="646.4" font-size="9.5" textLength="47.7" lengthAdjust="spacingAndGlyphs" fill="#333" class="yl">Years after HSCT</text>
<text x="289.6" y="556.2" font-size="9.2" textLength="52.5" lengthAdjust="spacingAndGlyphs" text-anchor="middle" fill="#333" transform="rotate(-90 289.6 556.2)" class="yl">Event-free survival</text>
<text x="430.5" y="503.1" font-size="8.0" fill="#231f20" textLength="26.5" lengthAdjust="spacingAndGlyphs"><tspan font-style="italic">P</tspan> = .07</text>
<text x="371.3" y="551.0" font-size="7.2" textLength="75.1" lengthAdjust="spacingAndGlyphs" fill="#c81f34">RDW &lt; 20.7%, n = 256</text>
<text x="343.1" y="601.5" font-size="7.2" textLength="70.2" lengthAdjust="spacingAndGlyphs" fill="#0d4f8b">RDW ≥ 20.7%, n = 38</text>
<polyline points="315.0,496.3 315.4,505.0 316.2,512.0 317.0,520.0 317.6,526.3 318.2,530.5 318.9,536.0 320.0,540.0 321.4,543.6 323.5,546.8 326.3,549.2 329.9,552.0 333.3,554.4 336.8,556.4 341.2,558.0 346.9,559.8 352.7,561.2 358.0,561.5 358.0,562.8 379.6,562.8 379.6,565.0 394.4,565.0 394.4,568.5 451.8,568.5" fill="none" stroke="#c81f34" stroke-width="1.6" stroke-linejoin="miter"/>
<polyline points="315.5,496.3 316.5,503.0 318.0,515.0 319.6,528.4 320.8,535.2 321.4,544.8 321.7,558.5 322.1,565.8 328.5,565.8 328.5,572.9 342.9,572.9 342.9,578.6 349.3,578.6 349.3,584.6 368.3,584.6 368.3,591.0 411.4,591.0" fill="none" stroke="#0d4f8b" stroke-width="1.4" stroke-linejoin="miter"/>
<path d="M43.6,504.1V508.3M42.7,506.2H44.5M44.4,507.9V512.1M43.5,510.0H45.3M45.4,510.8V515.0M44.5,512.9H46.3M46.3,513.4V517.6M45.4,515.5H47.2M47.1,516.2V520.4M46.2,518.3H48.0M48.2,520.5V524.7M47.3,522.6H49.1M49.3,525.5V529.7M48.4,527.6H50.2M50.4,528.6V532.8M49.5,530.7H51.3M51.5,530.9V535.1M50.6,533.0H52.4M52.5,532.4V536.6M51.6,534.5H53.4M53.6,533.8V538.0M52.7,535.9H54.5M54.8,535.0V539.2M53.9,537.1H55.7M56.1,536.3V540.5M55.2,538.4H57.0M57.5,537.8V542.0M56.6,539.9H58.4M59.0,539.3V543.5M58.1,541.4H59.9M60.5,540.5V544.7M59.6,542.6H61.4M62.3,541.9V546.1M61.4,544.0H63.2M64.0,543.0V547.2M63.1,545.1H64.9M66.0,544.2V548.4M65.1,546.3H66.9M68.0,545.2V549.4M67.1,547.3H68.9M70.1,546.1V550.3M69.2,548.2H71.0M72.3,546.9V551.1M71.4,549.0H73.2M74.5,547.6V551.8M73.6,549.7H75.4M76.5,548.2V552.4M75.6,550.3H77.4M78.6,548.8V553.0M77.7,550.9H79.5M81.0,549.4V553.6M80.1,551.5H81.9M83.0,549.6V553.8M82.1,551.7H83.9M84.5,549.7V553.9M83.6,551.8H85.4M86.0,549.9V554.1M85.1,552.0H86.9M88.0,550.0V554.2M87.1,552.1H88.9M90.0,550.2V554.4M89.1,552.3H90.9M93.0,551.4V555.6M92.1,553.5H93.9M95.0,551.4V555.6M94.1,553.5H95.9M97.0,551.4V555.6M96.1,553.5H97.9M100.0,552.5V556.7M99.1,554.6H100.9M102.0,552.5V556.7M101.1,554.6H102.9M104.0,552.5V556.7M103.1,554.6H104.9M106.0,552.5V556.7M105.1,554.6H106.9M108.0,552.5V556.7M107.1,554.6H108.9M111.0,553.2V557.4M110.1,555.3H111.9M113.5,553.2V557.4M112.6,555.3H114.4M116.0,553.2V557.4M115.1,555.3H116.9M118.5,553.2V557.4M117.6,555.3H119.4M121.0,553.2V557.4M120.1,555.3H121.9M124.5,554.4V558.6M123.6,556.5H125.4M126.0,554.4V558.6M125.1,556.5H126.9M128.5,554.4V558.6M127.6,556.5H129.4M131.0,554.4V558.6M130.1,556.5H131.9M134.0,554.9V559.1M133.1,557.0H134.9M137.0,554.9V559.1M136.1,557.0H137.9M140.0,554.9V559.1M139.1,557.0H140.9M143.0,554.9V559.1M142.1,557.0H143.9M146.0,554.9V559.1M145.1,557.0H146.9M149.0,554.9V559.1M148.1,557.0H149.9M152.0,554.9V559.1M151.1,557.0H152.9M156.0,554.9V559.1M155.1,557.0H156.9M160.0,554.9V559.1M159.1,557.0H160.9M165.0,554.9V559.1M164.1,557.0H165.9M170.0,554.9V559.1M169.1,557.0H170.9M179.0,554.9V559.1M178.1,557.0H179.9" stroke="#c81f34" stroke-width="1.0" fill="none"/>
<path d="M43.6,497.4V501.4M42.7,499.4H44.5M46.4,522.0V526.0M45.5,524.0H47.3M48.3,533.3V537.3M47.4,535.3H49.2M55.4,551.9V555.9M54.5,553.9H56.3M57.6,558.5V562.5M56.7,560.5H58.5M72.0,573.4V577.4M71.1,575.4H72.9M90.0,579.6V583.6M89.1,581.6H90.9M100.3,586.7V590.7M99.4,588.7H101.2M114.6,586.7V590.7M113.7,588.7H115.5M135.4,586.7V590.7M134.5,588.7H136.3M137.2,586.7V590.7M136.3,588.7H138.1" stroke="#0d4f8b" stroke-width="1.0" fill="none"/>
<path d="M316.0,508.2V512.4M315.1,510.3H316.9M317.4,522.1V526.3M316.5,524.2H318.3M318.6,531.5V535.7M317.7,533.6H319.5M319.5,536.1V540.3M318.6,538.2H320.4M320.5,539.2V543.4M319.6,541.3H321.4M321.6,541.8V546.0M320.7,543.9H322.5M322.8,543.6V547.8M321.9,545.7H323.7M324.0,545.1V549.3M323.1,547.2H324.9M325.5,546.4V550.6M324.6,548.5H326.4M327.0,547.6V551.8M326.1,549.7H327.9M328.5,548.8V553.0M327.6,550.9H329.4M330.0,550.0V554.2M329.1,552.1H330.9M331.5,551.0V555.2M330.6,553.1H332.4M333.0,552.1V556.3M332.1,554.2H333.9M334.5,553.0V557.2M333.6,555.1H335.4M336.0,553.8V558.0M335.1,555.9H336.9M338.0,554.7V558.9M337.1,556.8H338.9M340.0,555.5V559.7M339.1,557.6H340.9M342.0,556.2V560.4M341.1,558.3H342.9M344.0,556.8V561.0M343.1,558.9H344.9M346.5,557.6V561.8M345.6,559.7H347.4M349.0,558.2V562.4M348.1,560.3H349.9M351.5,558.8V563.0M350.6,560.9H352.4M354.0,559.2V563.4M353.1,561.3H354.9M356.5,559.3V563.5M355.6,561.4H357.4M359.0,560.7V564.9M358.1,562.8H359.9M361.5,560.7V564.9M360.6,562.8H362.4M364.0,560.7V564.9M363.1,562.8H364.9M366.5,560.7V564.9M365.6,562.8H367.4M369.0,560.7V564.9M368.1,562.8H369.9M371.5,560.7V564.9M370.6,562.8H372.4M374.0,560.7V564.9M373.1,562.8H374.9M377.0,560.7V564.9M376.1,562.8H377.9M380.0,562.9V567.1M379.1,565.0H380.9M383.0,562.9V567.1M382.1,565.0H383.9M386.0,562.9V567.1M385.1,565.0H386.9M389.0,562.9V567.1M388.1,565.0H389.9M392.0,562.9V567.1M391.1,565.0H392.9M395.0,566.4V570.6M394.1,568.5H395.9M397.5,566.4V570.6M396.6,568.5H398.4M400.0,566.4V570.6M399.1,568.5H400.9M403.0,566.4V570.6M402.1,568.5H403.9M406.0,566.4V570.6M405.1,568.5H406.9M409.0,566.4V570.6M408.1,568.5H409.9M412.0,566.4V570.6M411.1,568.5H412.9M416.0,566.4V570.6M415.1,568.5H416.9M420.0,566.4V570.6M419.1,568.5H420.9M426.0,566.4V570.6M425.1,568.5H426.9M434.0,566.4V570.6M433.1,568.5H434.9M451.5,566.4V570.6M450.6,568.5H452.4" stroke="#c81f34" stroke-width="1.0" fill="none"/>
<path d="M316.5,501.0V505.0M315.6,503.0H317.4M320.4,530.9V534.9M319.5,532.9H321.3M321.2,539.6V543.6M320.3,541.6H322.1M324.5,563.8V567.8M323.6,565.8H325.4M331.5,570.9V574.9M330.6,572.9H332.4M333.5,570.9V574.9M332.6,572.9H334.4M335.5,570.9V574.9M334.6,572.9H336.4M345.0,576.6V580.6M344.1,578.6H345.9M373.7,589.0V593.0M372.8,591.0H374.6M387.7,589.0V593.0M386.8,591.0H388.6M410.6,589.0V593.0M409.7,591.0H411.5" stroke="#0d4f8b" stroke-width="1.0" fill="none"/>
</svg>
</body></html>
